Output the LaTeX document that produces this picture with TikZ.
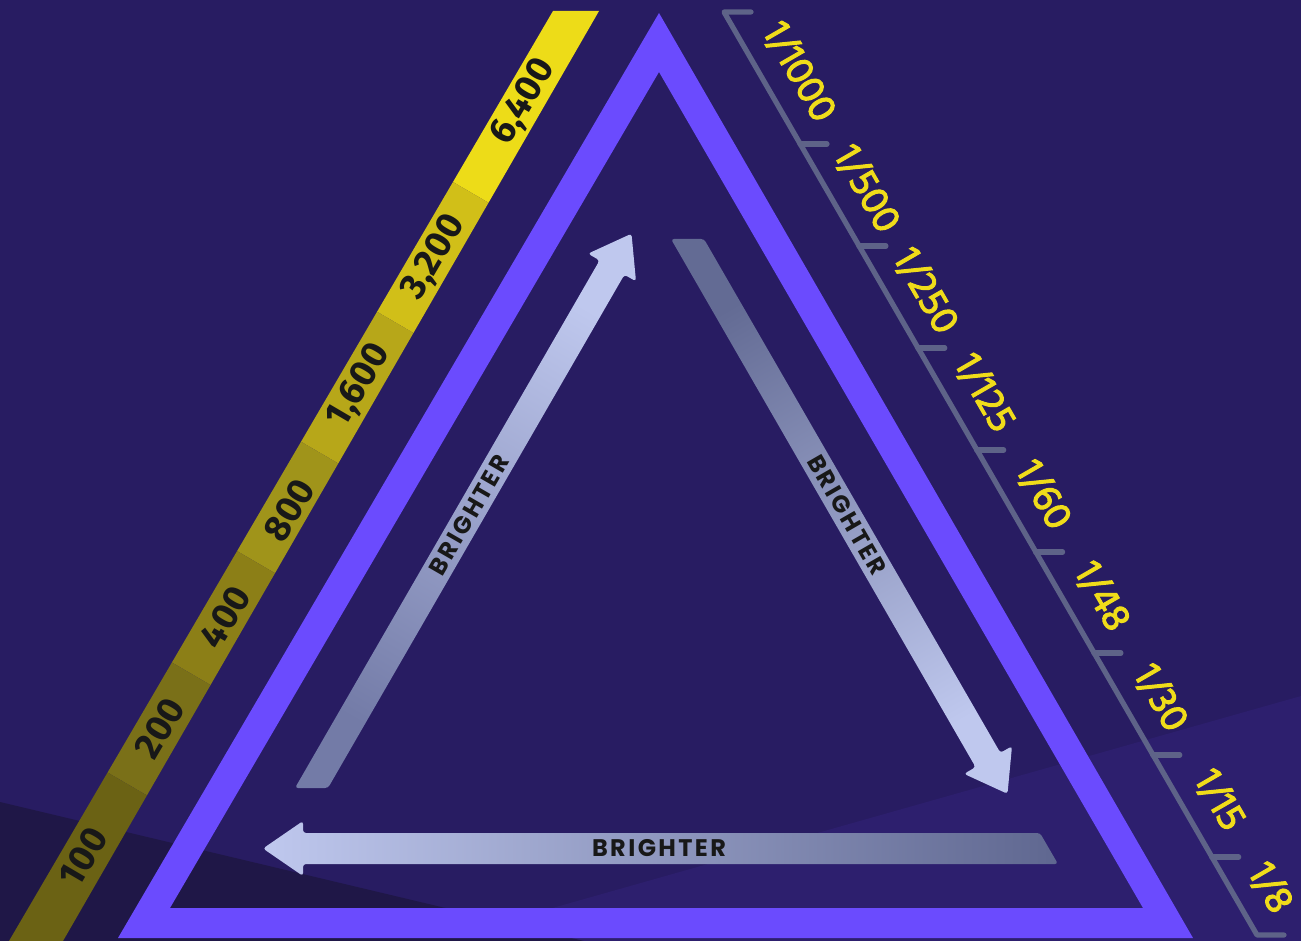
\documentclass[tikz,border=0pt]{standalone}
\usepackage{fontspec}
\newfontfamily\isofont{Fira Sans}
\newfontfamily\shutfont{Hind Siliguri}[FakeBold=2.5]
\newfontfamily\brfont{Poppins}[LetterSpace=10]
\definecolor{bg}{HTML}{281C62}
\definecolor{bgdark}{HTML}{1F1747}
\definecolor{bglight}{HTML}{2D1F6E}
\definecolor{tri}{HTML}{6B4BFE}
\definecolor{scaleln}{HTML}{5E6388}
\definecolor{yel}{HTML}{F0DC1A}
\definecolor{ink}{HTML}{181818}
\definecolor{isoA}{HTML}{EDDC18}
\definecolor{isoB}{HTML}{D1BF18}
\definecolor{isoC}{HTML}{B7A719}
\definecolor{isoD}{HTML}{A0941A}
\definecolor{isoE}{HTML}{8C7F17}
\definecolor{isoF}{HTML}{7A7018}
\definecolor{isoG}{HTML}{6B6214}
\definecolor{arlight}{HTML}{BFC8EE}
\definecolor{ardullL}{HTML}{737BA7}
\definecolor{ardullR}{HTML}{636B94}
\definecolor{ardullB}{HTML}{5F6790}
\newcommand\isoseg[3]{\fill[#3] ([shift={(-60,-35)}]#1) -- ([shift={(60,35)}]#1) -- ([shift={(60,35)}]#2) -- ([shift={(-60,-35)}]#2) -- cycle;}
\tikzset{
  isolab/.style={font=\isofont\bfseries\fontsize{18.5}{18.5}\selectfont, text=ink, inner sep=0pt, rotate=59.6},
  shutlab/.style={font=\shutfont\fontsize{20}{20}\selectfont, text=yel, inner sep=0pt, rotate=-60},
  brlab/.style={font=\brfont\bfseries\fontsize{12}{12}\selectfont, text=ink, inner sep=0pt},
  scaleline/.style={draw=scaleln, line width=2.6pt, line cap=round, line join=round},
  arrowbody/.style={rounded corners=1.5pt}
}
\begin{document}
\begin{tikzpicture}[x=0.5pt,y=-0.5pt]
\useasboundingbox (0,0) rectangle (1301,941);
% background
\fill[bg] (0,0) rectangle (1301,941);
\fill[bglight] (436,941) -- (1301,696) -- (1301,941) -- cycle;
\fill[bgdark] (0,802) -- (584,941) -- (0,941) -- cycle;
% ISO band
\coordinate (c0) at (594,-20);
\coordinate (c1) at (471,192.5);
\coordinate (c2) at (395.5,322.5);
\coordinate (c3) at (319.5,452.5);
\coordinate (c4) at (255,561.5);
\coordinate (c5) at (190,673);
\coordinate (c6) at (126.5,783.5);
\coordinate (c7) at (25,960);
\begin{scope}
\clip (553,11) -- (599,11) -- (63,941) -- (9,941) -- cycle;
\isoseg{c0}{c1}{isoA}
\isoseg{c1}{c2}{isoB}
\isoseg{c2}{c3}{isoC}
\isoseg{c3}{c4}{isoD}
\isoseg{c4}{c5}{isoE}
\isoseg{c5}{c6}{isoF}
\isoseg{c6}{c7}{isoG}
\end{scope}
\node[isolab] (i6400) at (524,102) {6,400};
\node[isolab] (i3200) at (434,257.5) {3,200};
\node[isolab] (i1600) at (359.5,386) {1,600};
\node[isolab] (i800) at (289,510) {800};
\node[isolab] (i400) at (225,617) {400};
\node[isolab] (i200) at (160,728) {200};
\node[isolab] (i100) at (83,857) {100};
% main triangle
\fill[tri, even odd rule] (659,13) -- (118,938) -- (1193,938) -- cycle
  (659,72) -- (1143,908) -- (170,908) -- cycle;
% shutter scale
\draw[scaleline] (751,12) -- (724,12) -- (1257,935) -- (1284,935);
\foreach \yy in {144,246,348,450,552,653,755,857}
  \draw[scaleline] ({800+(\yy-144)*0.5774},\yy) -- ++(27,0);
\node[shutlab] (s1000) at (799.4,72) {1/1000};
\node[shutlab] (s500) at (867,189) {1/500};
\node[shutlab] (s250) at (925.9,291) {1/250};
\node[shutlab] (s125) at (984.8,393) {1/125};
\node[shutlab] (s60) at (1043.7,495) {1/60};
\node[shutlab] (s48) at (1102.3,596.5) {1/48};
\node[shutlab] (s30) at (1160.9,698) {1/30};
\node[shutlab] (s15) at (1219.8,800) {1/15};
\node[shutlab] (s8) at (1270.6,888) {1/8};
% arrows
\shade[arrowbody, top color=arlight, bottom color=ardullL, shading angle=-30]
  (295,788) -- (599.6,260.4) -- (588,253.65) -- (631.5,233.7) -- (636,281.35) -- (624.4,274.7) -- (328,788) -- cycle;
\shade[arrowbody, top color=ardullR, bottom color=arlight, shading angle=30]
  (671,239) -- (704,239) -- (1000.4,752.85) -- (1012,746.15) -- (1007.5,793.8) -- (964,773.85) -- (975.6,767.15) -- cycle;
\shade[arrowbody, top color=arlight, bottom color=ardullB, shading angle=90]
  (263,848.5) -- (303,821) -- (303,833) -- (1040,833) -- (1058,864) -- (303,864) -- (303,876) -- cycle;
\node[brlab, rotate=60] (brL) at (469,515) {BRIGHTER};
\node[brlab, rotate=-60] (brR) at (847,515) {BRIGHTER};
\node[brlab] (brB) at (659,848.5) {BRIGHTER};
\end{tikzpicture}
\end{document}
